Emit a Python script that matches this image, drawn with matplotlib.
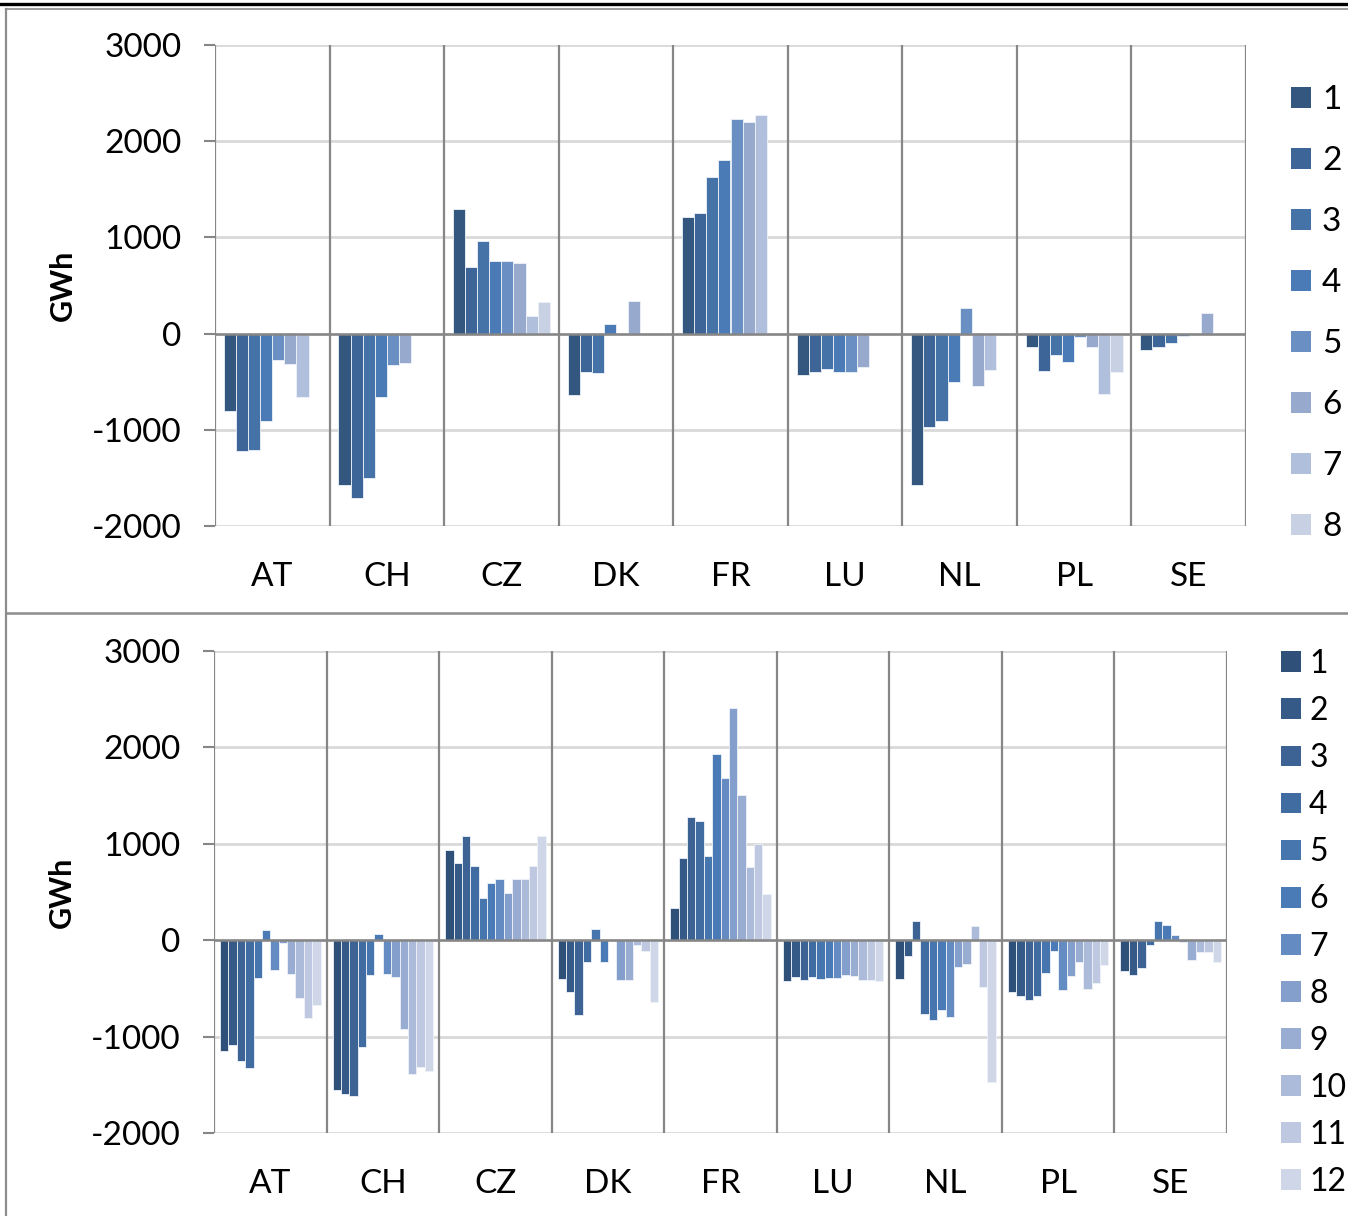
import numpy as np
import matplotlib
matplotlib.use("Agg")
import matplotlib.pyplot as plt
from matplotlib.lines import Line2D
from matplotlib.patches import Patch

plt.rcParams['font.family'] = ['Lato', 'DejaVu Sans']

countries = ["AT", "CH", "CZ", "DK", "FR", "LU", "NL", "PL", "SE"]
nan = np.nan

# ---- top chart (8 series) ----
top_labels = ["1", "2", "3", "4", "5", "6", "7", "8"]
top_AT = [-807, -1216, -1206, -904, -270, -319, -658, nan]
top_CH = [-1577, -1705, -1504, -658, -326, -305, nan, nan]
top_CZ = [1299, 696, 967, 759, 759, 731, 180, 329]
top_DK = [-634, -395, -405, 104, nan, 340, nan, nan]
top_FR = [1209, 1254, 1632, 1805, 2231, 2200, 2273, nan]
top_LU = [-426, -402, -371, -395, -395, -343, nan, nan]
top_NL = [-1573, -967, -908, -506, 263, -547, -381, nan]
top_PL = [-139, -388, -222, -295, -38, -142, -627, -398]
top_SE = [-173, -139, -100, -21, nan, 211, nan, nan]
top_colors = ["#34577f", "#3d6597", "#4573a8", "#4a7bb7",
              "#6a8fc3", "#97aace", "#b0c0dc", "#c8d1e4"]

# ---- bottom chart (12 series) ----
bot_labels = [str(i) for i in range(1, 13)]
bot_AT = [-1147, -1088, -1254, -1323, -397, 104, -304, -28, -349, -604, -808, -670]
bot_CH = [-1558, -1599, -1620, -1112, -366, 62, -349, -383, -926, -1389, -1320, -1354]
bot_CZ = [933, 798, 1085, 767, 439, 591, 636, 487, 636, 636, 767, 1078]
bot_DK = [-404, -542, -781, -228, 117, -225, nan, -411, -411, -48, -114, -639]
bot_FR = [338, 853, 1278, 1237, 870, 1931, 1686, 2408, 1503, 756, 998, 480]
bot_LU = [-425, -380, -408, -383, -404, -390, -394, -356, -373, -411, -408, -425]
bot_NL = [-401, -159, 197, -763, -826, -722, -801, -280, -252, 152, -490, -1471]
bot_PL = [-542, -580, -618, -580, -345, -114, -515, -373, -231, -508, -446, -259]
bot_SE = [-321, -366, -287, -48, 200, 159, 59, -17, -207, -121, -121, -225]
bot_colors = ["#2f5179", "#355a88", "#3c6394", "#416ca2", "#4775ae", "#4a7bb7",
              "#648bc2", "#849fcb", "#99add2", "#abbbd9", "#bec9e1", "#cfd6e7"]

W, H = 1348, 1216
fig = plt.figure(figsize=(W / 100, H / 100), dpi=100)

GRID_LIGHT = "#d9d9d9"
GRID_DARK = "#868686"
FS = 24


def draw(ax, data, colors, labels, span):
    data = np.array(data, dtype=float)  # countries x series
    n = data.shape[1]
    bw = span / n
    x = np.arange(len(countries))
    for j in range(n):
        off = -span / 2 + bw * (j + 0.5)
        ax.bar(x + off, data[:, j], width=bw, color=colors[j],
               edgecolor="#eef2f8", linewidth=0.6, zorder=3, label=labels[j])
    ax.set_xlim(-0.5, len(countries) - 0.5)
    ax.set_ylim(-2000, 3000)
    ax.set_yticks([-2000, -1000, 0, 1000, 2000, 3000])
    ax.set_yticklabels(["-2000", "-1000", "0", "1000", "2000", "3000"])
    for s in ax.spines.values():
        s.set_visible(False)
    ax.yaxis.grid(True, color=GRID_LIGHT, linewidth=2, zorder=0)
    for b in np.arange(len(countries) + 1) - 0.5:
        ax.axvline(b, color=GRID_DARK, linewidth=1.6, zorder=2)
    ax.axhline(0, color=GRID_DARK, linewidth=1.8, zorder=4)
    ax.set_xticks(x)
    ax.set_xticklabels(countries)
    ax.tick_params(axis='x', length=0, pad=26, labelsize=FS)
    ax.tick_params(axis='y', length=8, width=1.5, color=GRID_DARK,
                   pad=16, labelsize=FS)
    ax.set_ylabel("GWh", fontsize=22, fontweight='bold', labelpad=11)


ax1 = fig.add_axes([215 / W, 1 - 526 / H, (1246 - 215) / W, (526 - 45) / H])
draw(ax1, [top_AT, top_CH, top_CZ, top_DK, top_FR, top_LU, top_NL, top_PL, top_SE],
     top_colors, top_labels, 0.845)

ax2 = fig.add_axes([214 / W, 1 - 1133 / H, (1227 - 214) / W, (1133 - 651) / H])
draw(ax2, [bot_AT, bot_CH, bot_CZ, bot_DK, bot_FR, bot_LU, bot_NL, bot_PL, bot_SE],
     bot_colors, bot_labels, 0.893)

h1 = [Patch(facecolor=c) for c in top_colors]
fig.legend(h1, top_labels, loc='upper left', bbox_to_anchor=(1291 / W, 1 - 85 / H),
           frameon=False, fontsize=FS, handlelength=0.6, handleheight=0.6,
           handletextpad=0.33, labelspacing=0.93, borderpad=0, borderaxespad=0)
h2 = [Patch(facecolor=c) for c in bot_colors]
fig.legend(h2, bot_labels, loc='upper left', bbox_to_anchor=(1281 / W, 1 - 649 / H),
           frameon=False, fontsize=23, handlelength=0.62, handleheight=0.62,
           handletextpad=0.26, labelspacing=0.535, borderpad=0, borderaxespad=0)

# panel frames
def fline(x0, y0, x1, y1, color, lw):
    fig.add_artist(Line2D([x0 / W, x1 / W], [1 - y0 / H, 1 - y1 / H],
                          color=color, linewidth=lw, transform=fig.transFigure))

fline(0, 4, W, 4, "black", 2.4)
fline(6, 9, W, 9, "#8c8c8c", 1.2)
fline(6, 9, 6, H, "#8c8c8c", 1.6)
fline(6, 613, W, 613, "#8c8c8c", 1.8)

fig.savefig("out.png", dpi=100)
